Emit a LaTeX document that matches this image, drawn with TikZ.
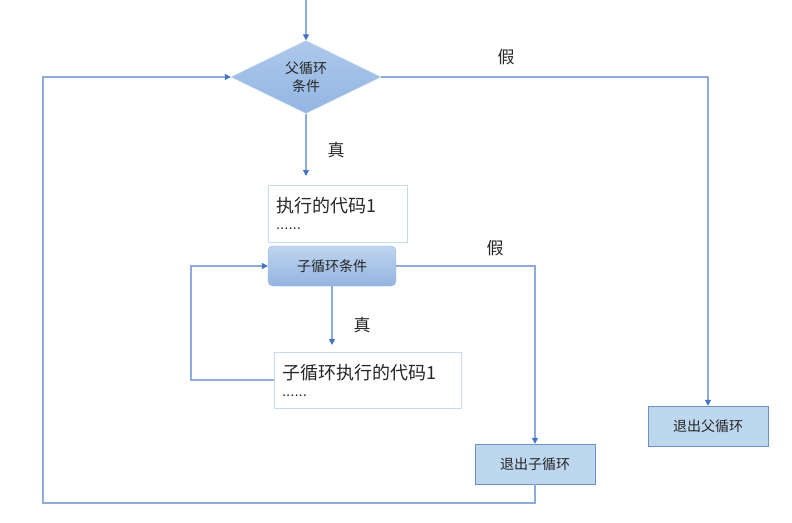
\documentclass[tikz,border=0pt]{standalone}
\usepackage{fontspec}
\newfontfamily\cjk{Noto Sans CJK SC}
\newfontfamily\dotsfont{Liberation Sans}
\usetikzlibrary{shapes.geometric,arrows.meta,positioning}
\definecolor{lineblue}{HTML}{8FAADC}
\definecolor{tipblue}{HTML}{4472C4}
\definecolor{fillblue}{HTML}{BDD7EE}
\definecolor{edgeblue}{HTML}{6F8FC8}
\definecolor{lightedge}{HTML}{C9DAF0}
\definecolor{condtop}{HTML}{ADC8EB}
\definecolor{condbot}{HTML}{93B6E2}
\definecolor{subtop}{HTML}{C0D5EF}
\definecolor{subbot}{HTML}{93B4E0}
\begin{document}
\begin{tikzpicture}[x=1pt,y=-1pt,
  every node/.style={font=\cjk, text=black!85},
  line/.style={draw=lineblue, line width=1.1pt},
  arr/.style={line, -{Triangle[length=6pt,width=6pt,color=tipblue]}},
  cond/.style={diamond, draw=lightedge, top color=condtop, bottom color=condbot,
    minimum width=150pt, minimum height=70pt, inner sep=0pt, align=center, font=\cjk\fontsize{14}{18}\selectfont},
  subcond/.style={draw=lineblue, rounded corners=5pt, top color=subtop, bottom color=subbot,
    minimum width=128pt, minimum height=40pt, inner sep=0pt, font=\cjk\fontsize{14}{18}\selectfont},
  code/.style={draw=lightedge, fill=white, align=left, inner sep=0pt, font=\cjk\fontsize{18}{22}\selectfont},
  exit/.style={draw=edgeblue, fill=fillblue, minimum width=120pt, minimum height=40pt, inner sep=0pt,
    font=\cjk\fontsize{14}{18}\selectfont},
  lbl/.style={inner sep=0pt, font=\cjk\fontsize{17}{20}\selectfont}
]
\useasboundingbox (0,0) rectangle (792,522);
% nodes
\node[cond] (pc) at (306,77) {父循环\\条件};
\node[code, minimum width=139pt, minimum height=57pt, text width=123pt] (code1) at (337.5,213.5)
  {执行的代码1\\[-5pt]{\dotsfont\fontsize{15}{14}\selectfont ......}};
\node[subcond] (sc) at (332,266) {子循环条件};
\node[code, minimum width=187pt, minimum height=56pt, text width=171pt] (code2) at (367.5,380)
  {子循环执行的代码1\\[-5pt]{\dotsfont\fontsize{15}{14}\selectfont ......}};
\node[exit] (xs) at (535,464) {退出子循环};
\node[exit] (xp) at (708,426) {退出父循环};
% labels
\node[lbl] (t1) at (336,150) {真};
\node[lbl] (f1) at (506,57) {假};
\node[lbl] (t2) at (362,325) {真};
\node[lbl] (f2) at (495,248) {假};
% free ends
\coordinate (in) at (306,0);
\coordinate (e1) at (306,176);
\coordinate (e2) at (332,345);
\coordinate (l1) at (191,380);
\coordinate (b1) at (43,503);
% connectors
\draw[arr] (in) -- (pc.north);
\draw[arr] (pc.south) -- (e1);
\draw[arr] (sc.south) -- (e2);
\draw[arr] (code2.west) -- (l1) |- (sc.west);
\draw[arr] (sc.east) -| (xs.north);
\draw[arr] (xs.south) |- (b1) |- (pc.west);
\draw[arr] (pc.east) -| (xp.north);
\end{tikzpicture}
\end{document}
